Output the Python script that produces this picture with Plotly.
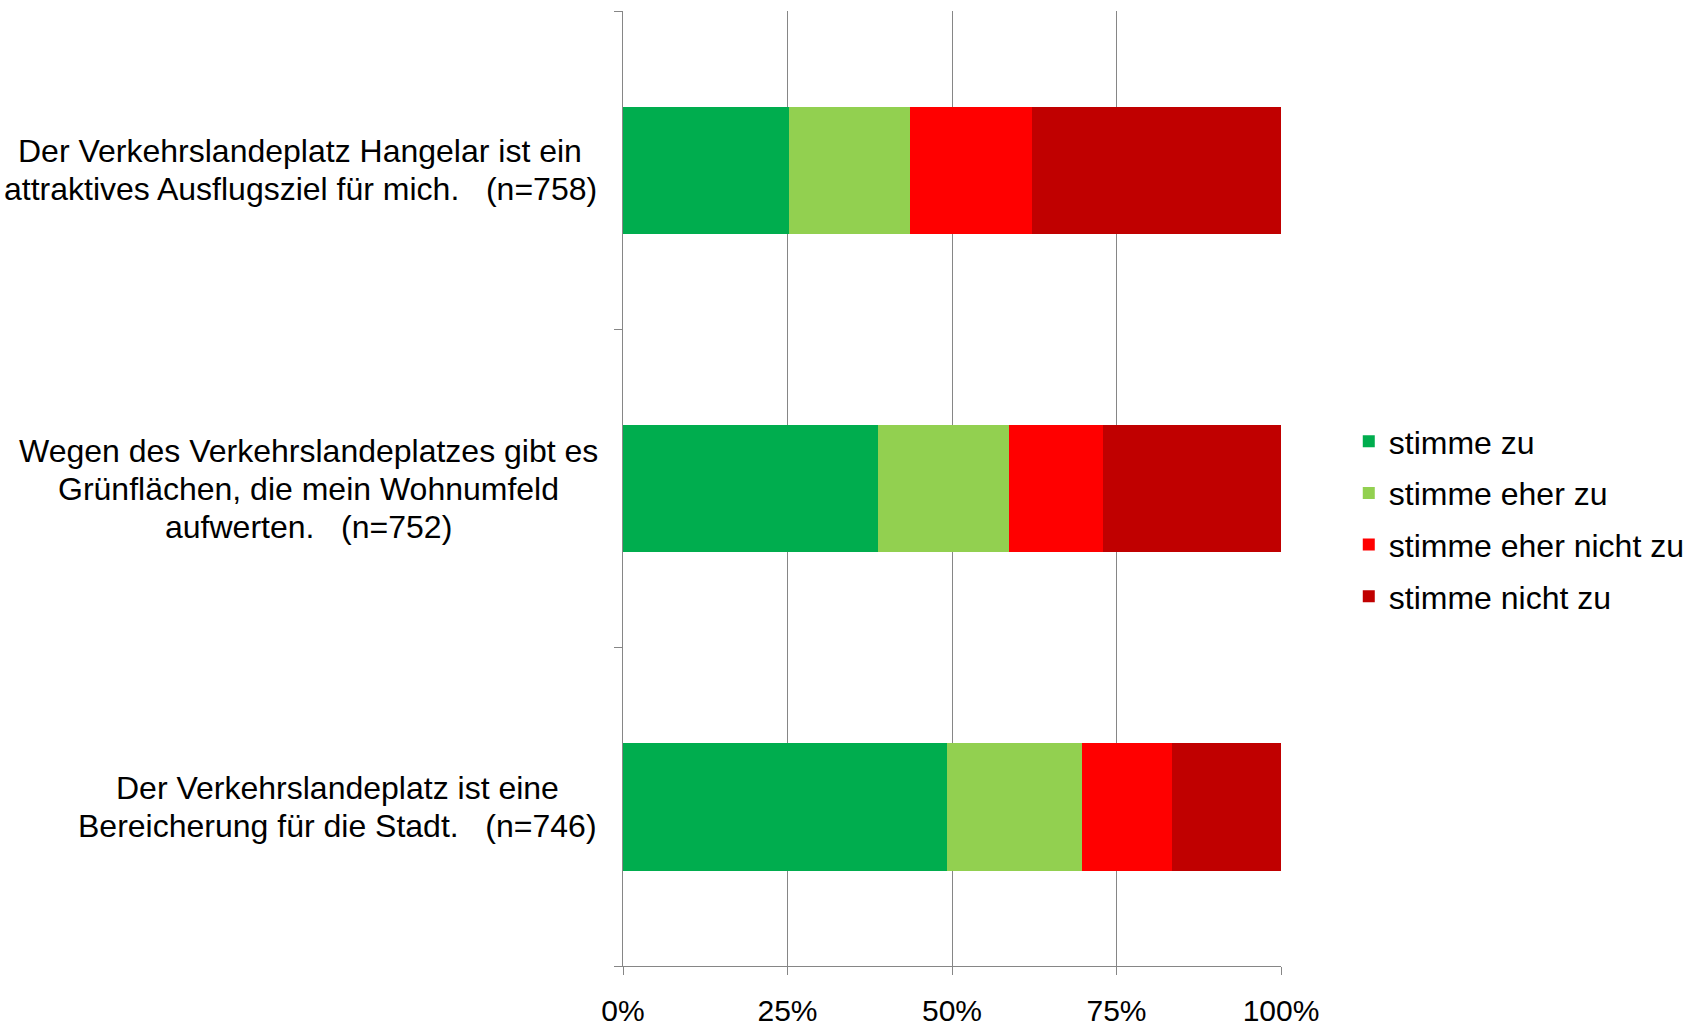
import plotly.graph_objects as go

categories = [
    "Der Verkehrslandeplatz Hangelar ist ein<br>attraktives Ausflugsziel für mich.\u00a0\u00a0 (n=758)",
    "Wegen des Verkehrslandeplatzes gibt es<br>Grünflächen, die mein Wohnumfeld<br>aufwerten.\u00a0\u00a0 (n=752)",
    "Der Verkehrslandeplatz ist eine<br>Bereicherung für die Stadt.\u00a0\u00a0 (n=746)",
]
series_names = ["stimme zu", "stimme eher zu", "stimme eher nicht zu", "stimme nicht zu"]
stimme_zu = [25.3, 38.7, 49.3]
stimme_eher_zu = [18.3, 20.0, 20.4]
stimme_eher_nicht_zu = [18.6, 14.2, 13.7]
stimme_nicht_zu = [37.8, 27.1, 16.6]
colors = ["#00AD4E", "#92D050", "#FF0000", "#C00000"]
x_ticks = [0, 25, 50, 75, 100]

FONT = "Liberation Sans, Arial, sans-serif"
FS = 32
fig = go.Figure()
for name, vals, col in zip(series_names,
                           [stimme_zu, stimme_eher_zu, stimme_eher_nicht_zu, stimme_nicht_zu],
                           colors):
    fig.add_trace(go.Bar(
        y=list(range(len(categories))), x=vals, name=name, orientation="h",
        marker=dict(color=col, line=dict(width=0)), width=0.4, legendgroup=name,
    ))

# category labels: centred lines, block right-aligned near the axis
LINE = 38
label_centre_shift = [-323, -315, -286]  # px from plot left edge (layout)
for i, cat in enumerate(categories):
    lines = cat.split("<br>")
    n = len(lines)
    for k, ln in enumerate(lines):
        fig.add_annotation(
            x=0, xref="paper", y=i, yref="y", text=ln, showarrow=False,
            xanchor="center", yanchor="middle",
            xshift=label_centre_shift[i], yshift=((n - 1) / 2 - k) * LINE,
            font=dict(family=FONT, size=FS, color="black"),
        )

fig.update_layout(
    barmode="stack",
    width=1696, height=1028,
    margin=dict(l=623, r=415, t=11, b=62, autoexpand=False),
    paper_bgcolor="white", plot_bgcolor="white",
    font=dict(family=FONT, size=FS, color="black"),
    legend=dict(x=1.103, xanchor="left", y=0.468, yanchor="middle",
                font=dict(family=FONT, size=FS, color="black"),
                itemwidth=30, tracegroupgap=7, traceorder="grouped"),
    bargap=0.6,
)
fig.update_xaxes(
    range=[0, 100], tickvals=x_ticks, ticktext=[f"{t}%" for t in x_ticks],
    showgrid=True, gridcolor="#868686", gridwidth=1,
    showline=True, linecolor="#868686", linewidth=1,
    ticks="outside", ticklen=8, tickcolor="#868686",
    ticklabelstandoff=10, zeroline=False, automargin=False,
    tickfont=dict(family=FONT, size=30, color="black"),
)
fig.update_yaxes(
    range=[2.5, -0.5], tickvals=[-0.5, 0.5, 1.5, 2.5], showticklabels=False,
    showgrid=False, showline=True, linecolor="#868686", linewidth=1,
    ticks="outside", ticklen=8, tickcolor="#868686", zeroline=False, automargin=False,
)
fig.write_html("out.html", config={"displayModeBar": False},
               post_script="document.body.style.margin='0';document.body.style.overflow='hidden';")
